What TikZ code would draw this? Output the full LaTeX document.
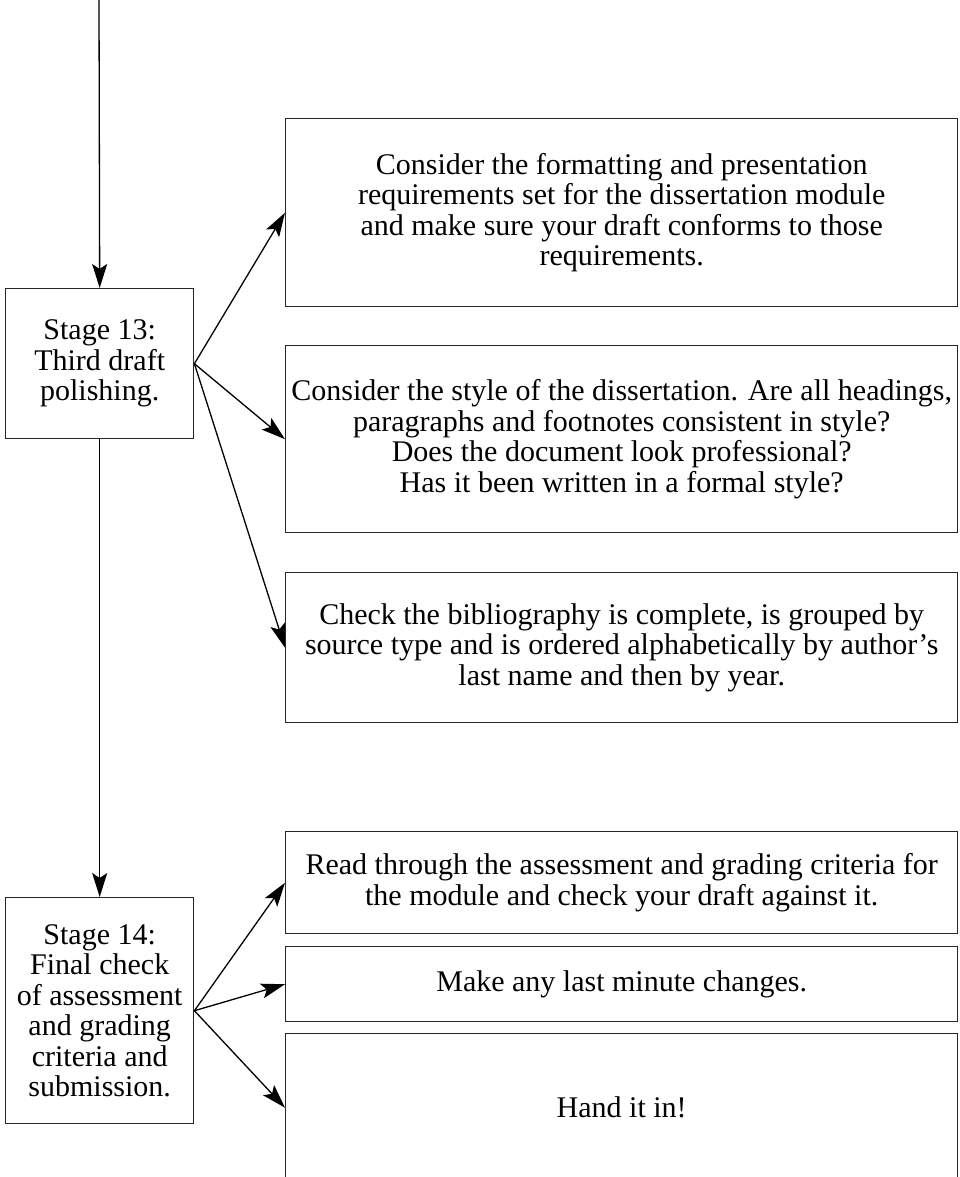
\documentclass[tikz,border=0pt]{standalone}
\usepackage{fontspec}
\setmainfont{Liberation Serif}
\usetikzlibrary{arrows.meta}
\tikzset{
  box/.style={draw=black!85, line width=1.4pt, anchor=north west, inner sep=0pt,
    align=center, font=\fontsize{30}{30.5}\selectfont, text=black},
  conn/.style={line width=1.3pt, -{Stealth[length=24pt, width=15pt, inset=5pt]}}
}
\begin{document}
\begin{tikzpicture}[x=1pt,y=-1pt]
\clip (0,0) rectangle (960,1177);
\fill[white] (0,0) rectangle (960,1177);
% stage boxes
\node[box, minimum width=188pt, minimum height=150pt] (s13) at (5,288)
  {Stage 13:\\Third draft\\polishing.};
\node[box, minimum width=188pt, minimum height=226pt] (s14) at (5,897)
  {Stage 14:\\Final check\\of assessment\\and grading\\criteria and\\submission.};
% right boxes
\node[box, minimum width=672pt, minimum height=188pt] (a) at (285,118)
  {Consider the formatting and presentation\\requirements set for the dissertation module\\and make sure your draft conforms to those\\requirements.};
\node[box, minimum width=672pt, minimum height=187pt] (b) at (285,345)
  {Consider the style of the dissertation. Are all headings,\\paragraphs and footnotes consistent in style?\\Does the document look professional?\\Has it been written in a formal style?};
\node[box, minimum width=672pt, minimum height=150pt] (c) at (285,572)
  {Check the bibliography is complete, is grouped by\\source type and is ordered alphabetically by author’s\\last name and then by year.};
\node[box, minimum width=672pt, minimum height=102pt] (d) at (285,831)
  {Read through the assessment and grading criteria for\\the module and check your draft against it.};
\node[box, minimum width=672pt, minimum height=75pt] (e) at (285,946)
  {Make any last minute changes.};
\node[box, minimum width=672pt, minimum height=148pt] (f) at (285,1033)
  {Hand it in!};
% connectors
\coordinate (top) at (99,0);
\draw[conn] (top) -- (s13.north);
\draw[conn] (s13.south) -- (s14.north);
\draw[conn] (s13.east) -- (a.west);
\draw[conn] (s13.east) -- (b.west);
\draw[conn] (s13.east) -- (c.west);
\draw[conn] (s14.east) -- (d.west);
\draw[conn] (s14.east) -- (e.west);
\draw[conn] (s14.east) -- (f.west);
\end{tikzpicture}
\end{document}
